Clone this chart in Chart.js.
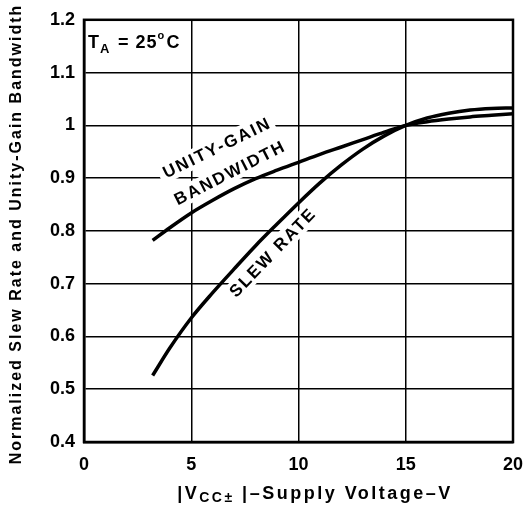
<!DOCTYPE html>
<html>
<head>
    <title>Slew Rate and Unity-Gain Bandwidth</title>
    <script src="https://cdn.jsdelivr.net/npm/chart.js"></script>
    <style>
        body { margin: 0; background: #fff; }
        #wrap { width: 527px; height: 505px; }
    </style>
</head>
<body>
    <div id="wrap"><canvas id="myChart" width="527" height="505"></canvas></div>

    <script>
        // values
        var bwVolts = [3.2, 4, 5, 6, 7, 8, 9, 10, 11, 12, 13, 14, 15, 16, 17, 18, 19, 20];
        var bwValues = [0.782, 0.806, 0.834, 0.858, 0.880, 0.899, 0.915, 0.930, 0.945, 0.959, 0.973, 0.987, 1.0, 1.007, 1.012, 1.016, 1.019, 1.022];

        var slewVolts = [3.2, 4, 5, 6, 7, 8, 9, 10, 11, 12, 13, 14, 15, 16, 17, 18, 19, 20];
        var slewValues = [0.526, 0.578, 0.635, 0.683, 0.728, 0.772, 0.813, 0.853, 0.891, 0.925, 0.955, 0.98, 1.0, 1.014, 1.023, 1.029, 1.032, 1.033];

        var xTicks = [0, 5, 10, 15, 20];
        var yTicks = [0.4, 0.5, 0.6, 0.7, 0.8, 0.9, 1, 1.1, 1.2];

        function toPoints(xs, ys) {
            return xs.map((x, i) => ({ x: x, y: ys[i] }));
        }

        var FONT = '"Liberation Sans", Arial, sans-serif';

        function spaced(ctx, px) {
            if ("letterSpacing" in ctx) ctx.letterSpacing = px + "px";
        }

        // curve labels, masking text and the grid under them
        var annotations = {
            id: "annotations",
            afterDraw(chart) {
                var ctx = chart.ctx;
                ctx.save();
                ctx.fillStyle = "#000";

                function label(text, x, y, angle) {
                    ctx.save();
                    ctx.translate(x, y);
                    ctx.rotate(angle * Math.PI / 180);
                    ctx.font = "bold 17px " + FONT;
                    spaced(ctx, 2);
                    ctx.textAlign = "center";
                    ctx.textBaseline = "middle";
                    var w = ctx.measureText(text).width;
                    ctx.fillStyle = "#fff";
                    ctx.fillRect(-w / 2 - 4, -10, w + 8, 20);
                    ctx.fillStyle = "#000";
                    ctx.fillText(text, 1, 1);
                    ctx.restore();
                }
                label("UNITY-GAIN", 216, 148, -26);
                label("BANDWIDTH", 229, 173, -27);
                label("SLEW RATE", 272, 253, -46);

                // T_A = 25°C
                ctx.textBaseline = "alphabetic";
                ctx.textAlign = "left";
                ctx.fillStyle = "#fff";
                ctx.fillRect(87, 28, 100, 27);
                ctx.fillStyle = "#000";
                spaced(ctx, 1);
                ctx.font = "bold 18px " + FONT;
                ctx.fillText("T", 88, 48);
                ctx.font = "bold 13px " + FONT;
                ctx.fillText("A", 100, 53);
                ctx.font = "bold 18px " + FONT;
                ctx.fillText("= 25", 118, 48);
                var w = ctx.measureText("= 25").width;
                ctx.font = "bold 11px " + FONT;
                ctx.fillText("o", 118 + w, 39);
                ctx.font = "bold 18px " + FONT;
                ctx.fillText("C", 118 + w + 9, 48);

                // x axis title with subscript
                spaced(ctx, 2.5);
                var parts = [
                    ["|V", "bold 18px " + FONT, 0],
                    ["CC\u00b1", "bold 14px " + FONT, 3],
                    [" |\u2013Supply Voltage\u2013V", "bold 18px " + FONT, 0]
                ];
                var total = 0;
                parts.forEach(p => { ctx.font = p[1]; total += ctx.measureText(p[0]).width; });
                var cx = 315 - total / 2;
                parts.forEach(p => {
                    ctx.font = p[1];
                    ctx.fillText(p[0], cx, 499 + p[2]);
                    cx += ctx.measureText(p[0]).width;
                });

                // y axis title
                ctx.save();
                ctx.translate(21, 234);
                ctx.rotate(-Math.PI / 2);
                ctx.textAlign = "center";
                ctx.font = "bold 16px " + FONT;
                spaced(ctx, 2);
                ctx.fillText("Normalized Slew Rate and Unity-Gain Bandwidth", 0, 0);
                ctx.restore();
                ctx.restore();
            }
        };

        var ctx = document.getElementById("myChart").getContext("2d");
        new Chart(ctx, {
            type: "line",
            data: {
                datasets: [
                    {
                        label: "Unity-Gain Bandwidth",
                        data: toPoints(bwVolts, bwValues),
                        borderColor: "#000",
                        borderWidth: 3.5,
                        pointRadius: 0,
                        cubicInterpolationMode: "monotone",
                        fill: false
                    },
                    {
                        label: "Slew Rate",
                        data: toPoints(slewVolts, slewValues),
                        borderColor: "#000",
                        borderWidth: 3.5,
                        pointRadius: 0,
                        cubicInterpolationMode: "monotone",
                        fill: false
                    }
                ]
            },
            options: {
                responsive: false,
                animation: false,
                layout: { padding: { top: 12, right: 14, left: 0, bottom: 0 } },
                plugins: {
                    legend: { display: false },
                    tooltip: { enabled: false }
                },
                scales: {
                    x: {
                        type: "linear",
                        min: 0,
                        max: 20,
                        afterFit: s => { s.height = 63; s.paddingRight = 0; s.paddingLeft = 0; },
                        afterBuildTicks: s => { s.ticks = xTicks.map(v => ({ value: v })); },
                        grid: { color: "#000", lineWidth: 1.5, drawTicks: false },
                        border: { color: "#000", width: 2.5 },
                        ticks: {
                            color: "#000",
                            padding: 12,
                            font: { family: FONT, size: 18, weight: "bold" }
                        }
                    },
                    y: {
                        min: 0.4,
                        max: 1.2,
                        afterFit: s => { s.width = 84; },
                        afterBuildTicks: s => { s.ticks = yTicks.map(v => ({ value: v })); },
                        grid: { color: "#000", lineWidth: 1.5, drawTicks: false },
                        border: { color: "#000", width: 2.5 },
                        ticks: {
                            color: "#000",
                            padding: 9,
                            font: { family: FONT, size: 18, weight: "bold" },
                            callback: v => String(Math.round(v * 10) / 10)
                        }
                    }
                }
            },
            plugins: [annotations, {
                id: "frame",
                afterDraw(chart) {
                    var a = chart.chartArea, c = chart.ctx;
                    c.save();
                    c.strokeStyle = "#000";
                    c.lineWidth = 2.5;
                    c.strokeRect(a.left, a.top, a.right - a.left, a.bottom - a.top);
                    c.restore();
                }
            }]
        });
    </script>
</body>
</html>
